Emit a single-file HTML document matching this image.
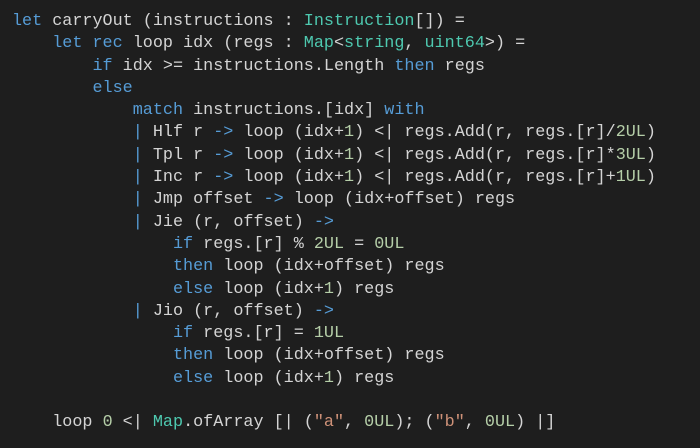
<!DOCTYPE html>
<html><head><style>
html,body{margin:0;padding:0;background:#1e1e1e;width:700px;height:448px;overflow:hidden}
pre{margin:0;position:absolute;left:12px;top:11px;font-family:"Liberation Mono",monospace;font-size:16.78px;line-height:22.3px;color:#d4d4d4}
.k{color:#569cd6}.t{color:#4ec9b0}.n{color:#b5cea8}.s{color:#ce9178}
</style></head><body>
<pre><span class="k">let</span> carryOut (instructions : <span class="t">Instruction</span>[]) =
    <span class="k">let</span> <span class="k">rec</span> loop idx (regs : <span class="t">Map</span>&lt;<span class="t">string</span>, <span class="t">uint64</span>&gt;) =
        <span class="k">if</span> idx &gt;= instructions.Length <span class="k">then</span> regs
        <span class="k">else</span>
            <span class="k">match</span> instructions.[idx] <span class="k">with</span>
            <span class="k">|</span> Hlf r <span class="k">-&gt;</span> loop (idx+<span class="n">1</span>) &lt;| regs.Add(r, regs.[r]/<span class="n">2UL</span>)
            <span class="k">|</span> Tpl r <span class="k">-&gt;</span> loop (idx+<span class="n">1</span>) &lt;| regs.Add(r, regs.[r]*<span class="n">3UL</span>)
            <span class="k">|</span> Inc r <span class="k">-&gt;</span> loop (idx+<span class="n">1</span>) &lt;| regs.Add(r, regs.[r]+<span class="n">1UL</span>)
            <span class="k">|</span> Jmp offset <span class="k">-&gt;</span> loop (idx+offset) regs
            <span class="k">|</span> Jie (r, offset) <span class="k">-&gt;</span>
                <span class="k">if</span> regs.[r] % <span class="n">2UL</span> = <span class="n">0UL</span>
                <span class="k">then</span> loop (idx+offset) regs
                <span class="k">else</span> loop (idx+<span class="n">1</span>) regs
            <span class="k">|</span> Jio (r, offset) <span class="k">-&gt;</span>
                <span class="k">if</span> regs.[r] = <span class="n">1UL</span>
                <span class="k">then</span> loop (idx+offset) regs
                <span class="k">else</span> loop (idx+<span class="n">1</span>) regs

    loop <span class="n">0</span> &lt;| <span class="t">Map</span>.ofArray [| (<span class="s">"a"</span>, <span class="n">0UL</span>); (<span class="s">"b"</span>, <span class="n">0UL</span>) |]</pre>
</body></html>
